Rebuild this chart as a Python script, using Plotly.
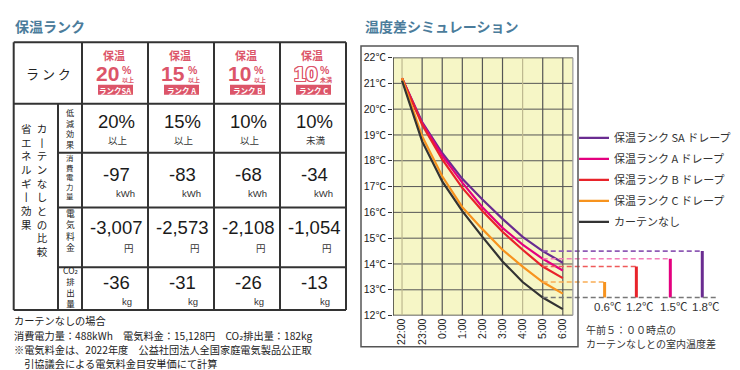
import plotly.graph_objects as go

# ---------------- data ----------------
time_labels = ["22:00", "23:00", "0:00", "1:00", "2:00", "3:00", "4:00", "5:00", "6:00"]
temp_rank_sa = [21.2, 19.5, 18.3, 17.3, 16.5, 15.75, 15.05, 14.5, 14.05]
temp_rank_a = [21.2, 19.45, 18.2, 17.15, 16.2, 15.4, 14.75, 14.2, 13.75]
temp_rank_b = [21.2, 19.4, 18.05, 16.95, 16.05, 15.25, 14.55, 13.9, 13.45]
temp_rank_c = [21.2, 18.95, 17.4, 16.2, 15.35, 14.55, 13.9, 13.3, 12.85]
temp_no_curtain = [21.1, 18.75, 17.2, 16.05, 15.05, 14.1, 13.3, 12.7, 12.25]
legend_names = ["保温ランク SA ドレープ", "保温ランク A ドレープ", "保温ランク B ドレープ",
                "保温ランク C ドレープ", "カーテンなし"]
y_tick_values = list(range(12, 23))
y_tick_text = [f"{v}℃" for v in y_tick_values]
compare_time = "5:00"

rank_badges = ["ランクSA", "ランク A", "ランク B", "ランク C"]
reduction_pct = [20, 15, 10, 10]
reduction_note = ["以上", "以上", "以上", "未満"]
power_kwh = [-97, -83, -68, -34]
cost_yen = [-3007, -2573, -2108, -1054]
co2_kg = [-36, -31, -26, -13]
CO2 = "CO<span style='font-family:DejaVu Sans'>₂</span>"
row_labels = [["低", "減", "効", "果"], ["消", "費", "電", "力", "量"],
              ["電", "気", "料", "金"], [CO2, "排", "出", "量"]]
side_label_left = "省エネルギー効果"
side_label_right = "カーテンなしとの比較"
footnotes = ["カーテンなしの場合",
             f"消費電力量：488kWh　電気料金：15,128円　{CO2}排出量：182kg",
             "※電気料金は、2022年度　公益社団法人全国家庭電気製品公正取",
             "　引協議会による電気料金目安単価にて計算"]

# ---------------- styles ----------------
W, H = 740, 370
JP = "Noto Sans CJK JP"
NUM = "Liberation Sans, Noto Sans CJK JP"
TITLE_C = "#4b7c9b"
BADGE_C = "#dc5569"
LINE_C = "#333333"
series = [temp_rank_sa, temp_rank_a, temp_rank_b, temp_rank_c, temp_no_curtain]
colors = ["#6a2c91", "#e4007f", "#e8232a", "#f7931e", "#333333"]
dash_colors = ["#8f5bb5", "#f27cb8", "#ef5a5a", "#f9ad55", "#777777"]


def px(x):
    return x / W


def py(y):
    return 1 - y / H


annotations = []
shapes = []


def ann(text, x, y, size, color="#222", family=JP, xanchor="center", yanchor="middle",
        weight="normal", shadow=None, xref="paper"):
    f = dict(size=size, color=color, family=family, weight=weight)
    if shadow:
        f["shadow"] = shadow
    annotations.append(dict(text=text, x=px(x) if xref == "paper" else x, y=py(y),
                            xref=xref, yref="paper", showarrow=False, font=f,
                            xanchor=xanchor, yanchor=yanchor, borderpad=0))


def pline(x0, y0, x1, y1, color=LINE_C, width=2):
    shapes.append(dict(type="line", xref="paper", yref="paper", x0=px(x0), y0=py(y0),
                       x1=px(x1), y1=py(y1), line=dict(color=color, width=width)))


def vchar(ch):
    return "丨" if ch == "ー" else ch


def vertical(chars):
    return "<br>".join(vchar(ch) for ch in chars)


def two_columns(left, right):
    n = max(len(left), len(right))
    lp = list(left) + ["　"] * (n - len(left))
    rp = list(right) + ["　"] * (n - len(right))
    return "<br>".join(f"{vchar(a)}\u2002{vchar(b)}" for a, b in zip(lp, rp))


# ---------------- titles ----------------
ann("保温ランク", 6, 12, 14, TITLE_C, weight="bold", xanchor="left")
ann("温度差シミュレーション", 356, 12, 14, TITLE_C, weight="bold", xanchor="left")

# ---------------- table ----------------
col_x = [5.7, 50, 74, 140, 206, 272, 338]
row_y = [29.3, 92.7, 143.3, 200, 261.7, 306]
pline(col_x[0], row_y[0], col_x[-1], row_y[0])
pline(col_x[0], row_y[1], col_x[-1], row_y[1])
for ry in row_y[2:-1]:
    pline(col_x[1], ry, col_x[-1], ry)
pline(col_x[0], row_y[-1], col_x[-1], row_y[-1])
pline(col_x[0], row_y[0], col_x[0], row_y[-1])
pline(col_x[1], row_y[1], col_x[1], row_y[-1])
for cx in col_x[2:]:
    pline(cx, row_y[0], cx, row_y[-1])

ann("ラ ン ク", 40, 61, 13, "#222")

centers = [(col_x[i] + col_x[i + 1]) / 2 for i in range(2, 6)]
outline = ", ".join(f"{a}px {b}px 0 {BADGE_C}" for a, b in
                    [(1, 0), (-1, 0), (0, 1), (0, -1), (1, 1), (-1, -1), (1, -1), (-1, 1)])
for i, c in enumerate(centers):
    ann("保温", c - 1, 42, 11, BADGE_C, weight="bold")
    hollow = reduction_note[i] == "未満"
    ann(str(reduction_pct[i]), c + 5, 61, 21, "white" if hollow else BADGE_C, family=NUM,
        weight="bold", xanchor="right", shadow=outline if hollow else None)
    ann("%", c + 6, 57.5, 10.5, BADGE_C, family=NUM, weight="bold", xanchor="left")
    ann(reduction_note[i], c + 6, 68.2, 6, BADGE_C, weight="bold", xanchor="left")
    shapes.append(dict(type="rect", xref="paper", yref="paper", x0=px(c - 17), x1=px(c + 18),
                       y0=py(73), y1=py(83.5), fillcolor=BADGE_C, line=dict(width=0)))
    ann(rank_badges[i], c + 0.5, 79.2, 7.5, "white", weight="bold")

    # body values
    ann(f"{reduction_pct[i]}%", c + 1, 111, 18.5, "#1a1a1a", family=NUM)
    ann(reduction_note[i], c + 3, 130.5, 9.5, "#333")
    ann(f"{power_kwh[i]}", c + 1, 166, 18.5, "#1a1a1a", family=NUM)
    ann("kWh", c + 10, 185, 9.5, "#333", family=NUM)
    ann(f"{cost_yen[i]:,}", c + 1, 221, 18.5, "#1a1a1a", family=NUM)
    ann("円", c + 14, 241.5, 9.5, "#333")
    ann(f"{co2_kg[i]}", c + 1, 278, 18.5, "#1a1a1a", family=NUM)
    ann("kg", c + 12, 297.5, 9.5, "#333", family=NUM)

# side vertical labels: two vertical columns in one text block (line spacing = 1.3 x size)
ann(two_columns(side_label_left, side_label_right), 26, 110, 10.5, "#222", yanchor="top")

row_label_layout = [(95, 8.1), (141.5, 7.4), (198.5, 8.8), (257.5, 8.5)]
for lbl, (ytop, sz) in zip(row_labels, row_label_layout):
    ann(vertical(lbl), 62, ytop, sz, "#222", yanchor="top")

for k, line in enumerate(footnotes):
    ann(line, 5, [317, 332, 347, 361.7][k], 10.2, "#222", xanchor="left")

# ---------------- chart ----------------
xi = list(range(len(time_labels)))
X_LEFT, X_RIGHT = -0.45, 8.5
shapes.append(dict(type="rect", xref="paper", yref="paper", x0=px(353), x1=px(570), y0=py(33),
                   y1=py(344), line=dict(color="#555", width=1.5), fillcolor="rgba(0,0,0,0)"))
shapes.append(dict(type="rect", xref="x", yref="y", x0=X_LEFT, x1=X_RIGHT, y0=12, y1=22,
                   fillcolor="#f6f6c6", line=dict(width=0), layer="below"))
for v in y_tick_values:
    edge = v in (y_tick_values[0], y_tick_values[-1])
    shapes.append(dict(type="line", xref="x", yref="y", x0=X_LEFT, x1=X_RIGHT, y0=v, y1=v,
                       line=dict(color="#333" if edge else "#555", width=1.5 if edge else 1),
                       layer="below"))
light_cols = {0, 6}
for k in xi:
    shapes.append(dict(type="line", xref="x", yref="y", x0=k, x1=k, y0=12, y1=22,
                       line=dict(color="#bdb88f" if k in light_cols else "#555", width=1.2),
                       layer="below"))
shapes.append(dict(type="line", xref="x", yref="y", x0=X_LEFT, x1=X_LEFT, y0=12, y1=22,
                   line=dict(color="#333", width=1.5), layer="below"))
shapes.append(dict(type="line", xref="x", yref="y", x0=X_RIGHT, x1=X_RIGHT, y0=12, y1=22,
                   line=dict(color="#999", width=1.2), layer="below"))

fig = go.Figure()
for name, ys, col in zip(legend_names, series, colors):
    fig.add_trace(go.Scatter(x=xi, y=ys, mode="lines", name=name,
                             line=dict(color=col, width=2.2), legendgroup=name))

# comparison at 5:00
ci = time_labels.index(compare_time)
base = temp_no_curtain[ci]
bar_x = [14.94, 13.35, 11.66, 10.08]  # SA, A, B, C positions in the side panel
gray_end = 15.67
for ys, col, dcol, bx in zip(series[:4], colors[:4], dash_colors[:4], bar_x):
    fig.add_trace(go.Scatter(x=[ci, bx], y=[ys[ci], ys[ci]], mode="lines", showlegend=False,
                             hoverinfo="skip", line=dict(color=dcol, width=1.6, dash="5px,3px")))
    fig.add_trace(go.Scatter(x=[bx, bx], y=[base, ys[ci]], mode="lines", showlegend=False,
                             hoverinfo="skip", line=dict(color=col, width=3)))
    ann(f"{ys[ci] - base:.1f}℃", bx + 0.17, 303, 11.5, "#333", family=NUM, xref="x")
fig.add_trace(go.Scatter(x=[ci, gray_end], y=[base, base], mode="lines", showlegend=False,
                         hoverinfo="skip", line=dict(color=dash_colors[4], width=1.6, dash="5px,3px")))

ann("午前５：００時点の", 577, 326, 10, "#333", xanchor="left")
ann("カーテンなしとの室内温度差", 577, 340.8, 10, "#333", xanchor="left")

fig.update_layout(
    width=W, height=H, autosize=False,
    margin=dict(l=0, r=0, t=0, b=0),
    paper_bgcolor="white", plot_bgcolor="rgba(0,0,0,0)",
    font=dict(family=JP, color="#222"),
    xaxis=dict(domain=[px(385), px(720)], range=[X_LEFT, 16.22], tickvals=xi, ticktext=time_labels,
               tickangle=-90, showgrid=False, zeroline=False, showline=False, ticks="",
               tickfont=dict(size=10.5, family=NUM, color="#222"), fixedrange=True),
    yaxis=dict(domain=[py(311.7), py(45)], range=[12, 22], tickvals=y_tick_values,
               ticktext=y_tick_text, ticks="outside", ticklen=4, tickcolor="#333",
               showgrid=False, zeroline=False, showline=False,
               tickfont=dict(size=10.5, family=NUM, color="#222"), fixedrange=True),
    legend=dict(x=px(566), y=py(113), xanchor="left", yanchor="top", bgcolor="rgba(0,0,0,0)",
                font=dict(size=11, family=JP, color="#333"), tracegroupgap=2, itemwidth=30),
    shapes=shapes, annotations=annotations, showlegend=True,
)

fig.write_html("out.html")
